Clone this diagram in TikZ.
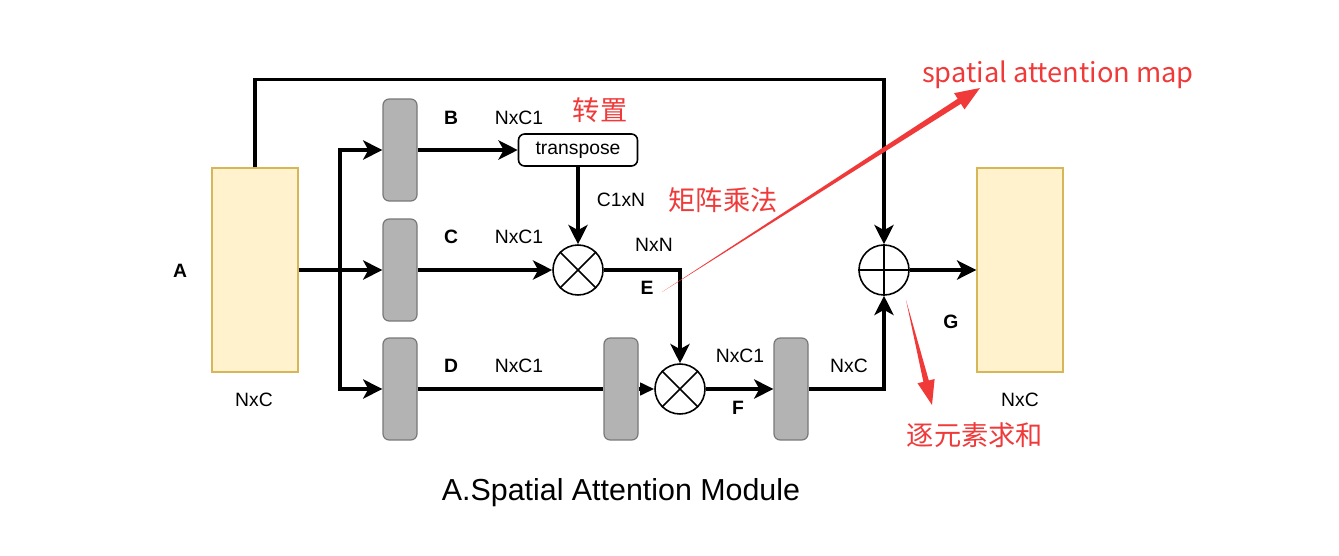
\documentclass[tikz,border=0pt]{standalone}
\usepackage{fontspec}
\setmainfont{Liberation Sans}
\newfontfamily\cjk{Noto Sans CJK SC}
\usetikzlibrary{arrows.meta, positioning, calc}
\definecolor{featfill}{RGB}{255,242,204}
\definecolor{featdraw}{RGB}{214,182,86}
\definecolor{convfill}{RGB}{179,179,179}
\definecolor{convdraw}{RGB}{120,120,120}
\definecolor{annot}{RGB}{240,58,58}

\begin{document}
\begin{tikzpicture}[x=0.02cm,y=-0.02cm,
  feat/.style={draw=featdraw, fill=featfill, line width=0.8pt, minimum width=1.72cm, minimum height=4.08cm, inner sep=0pt},
  conv/.style={draw=convdraw, fill=convfill, rounded corners=3.5pt, line width=0.7pt, minimum width=0.68cm, minimum height=2.04cm, inner sep=0pt},
  op/.style={circle, draw, line width=0.9pt, minimum size=1cm, inner sep=0pt},
  flow/.style={line width=1.8pt, -{Stealth[length=11pt,width=11pt,inset=3pt]}},
  wire/.style={line width=1.8pt},
  dims/.style={font=\fontsize{11}{13}\selectfont},
  tag/.style={font=\fontsize{11}{13}\selectfont\bfseries},
  note/.style={text=annot, font=\cjk\fontsize{15.5}{18}\selectfont}]
\useasboundingbox (0,0) rectangle (1339,555);

% Input and output
\node[feat] (A) at (255,270) {};
\node[feat] (G) at (1020,270) {};

% Branches
\node[conv] (B) at (400,150) {};
\node[conv] (C) at (400,270) {};
\node[conv] (D) at (400,389) {};
\node[conv] (D2) at (621,389) {};
\node[conv] (F3) at (791,389) {};
\node[draw, rounded corners=3.5pt, line width=0.9pt, minimum width=2.38cm, minimum height=0.64cm, inner sep=0pt, dims] (tp) at (578,150) {transpose};

% Operations
\node[op] (m1) at (578,270) {};
\node[op] (m2) at (680,389) {};
\node[op] (plus) at (884,270) {};
\draw[line width=0.9pt] (m1.north west) -- (m1.south east) (m1.north east) -- (m1.south west);
\draw[line width=0.9pt] (m2.north west) -- (m2.south east) (m2.north east) -- (m2.south west);
\draw[line width=0.9pt] (plus.north) -- (plus.south) (plus.west) -- (plus.east);

% Connections
\coordinate (split) at (340,270);
\draw[wire] (A.east) -- (split);
\draw[flow] (split) |- (B.west);
\draw[flow] (split) -- (C.west);
\draw[flow] (split) |- (D.west);
\draw[flow] (A.north) -- ++(0,-88) -| (plus.north);
\draw[flow] (B.east) -- (tp.west);
\draw[flow] (tp.south) -- (m1.north);
\draw[flow] (C.east) -- (m1.west);
\draw[flow] (m1.east) -| (m2.north);
\draw[wire] (D.east) -- (D2.west);
\draw[wire, -{Triangle[length=8pt,width=7pt]}] (D2.east) -- (m2.west);
\draw[flow] (m2.east) -- (F3.west);
\draw[flow] (F3.east) -| (plus.south);
\draw[flow] (plus.east) -- (G.west);

% Labels
\node[tag] (lA) at (180,271) {A};
\node[tag] (lB) at (451,118) {B};
\node[tag] (lC) at (451,237) {C};
\node[tag] (lD) at (451,366) {D};
\node[tag] (lE) at (647,288) {E};
\node[tag] (lF) at (738,408) {F};
\node[tag] (lG) at (951,322) {G};
\node[dims] (dA) at (254,400) {NxC};
\node[dims] (dG) at (1020,400) {NxC};
\node[dims] (dB) at (519,118) {NxC1};
\node[dims] (dC) at (519,237) {NxC1};
\node[dims] (dD) at (519,366) {NxC1};
\node[dims] (dT) at (621,200) {C1xN};
\node[dims] (dE) at (654,245) {NxN};
\node[dims] (dF) at (740,356) {NxC1};
\node[dims] (dS) at (849,366) {NxC};

% Notes
\node[note] (n1) at (600,110) {转置};
\node[note] (n2) at (723,200) {矩阵乘法};
\node[note] (n3) at (975,435) {逐元素求和};
\node[note] (n4) at (1058,75) {spatial attention map};
\coordinate (s1) at (662,292);
\coordinate (t1) at (980,88);
\coordinate (h1) at ($(t1)!14pt!(s1)$);
\fill[annot] (s1) -- ($(h1)!1.7pt!90:(t1)$) -- ($(h1)!5.5pt!90:(t1)$) -- (t1) -- ($(h1)!5.5pt!-90:(t1)$) -- ($(h1)!1.7pt!-90:(t1)$) -- cycle;
\coordinate (s2) at (906,300);
\coordinate (t2) at (932,405);
\coordinate (h2) at ($(t2)!14pt!(s2)$);
\fill[annot] (s2) -- ($(h2)!1.6pt!90:(t2)$) -- ($(h2)!5pt!90:(t2)$) -- (t2) -- ($(h2)!5pt!-90:(t2)$) -- ($(h2)!1.6pt!-90:(t2)$) -- cycle;

% Title
\node[font=\fontsize{17.3}{20}\selectfont] (title) at (621,493) {A.Spatial Attention Module};
\end{tikzpicture}
\end{document}
